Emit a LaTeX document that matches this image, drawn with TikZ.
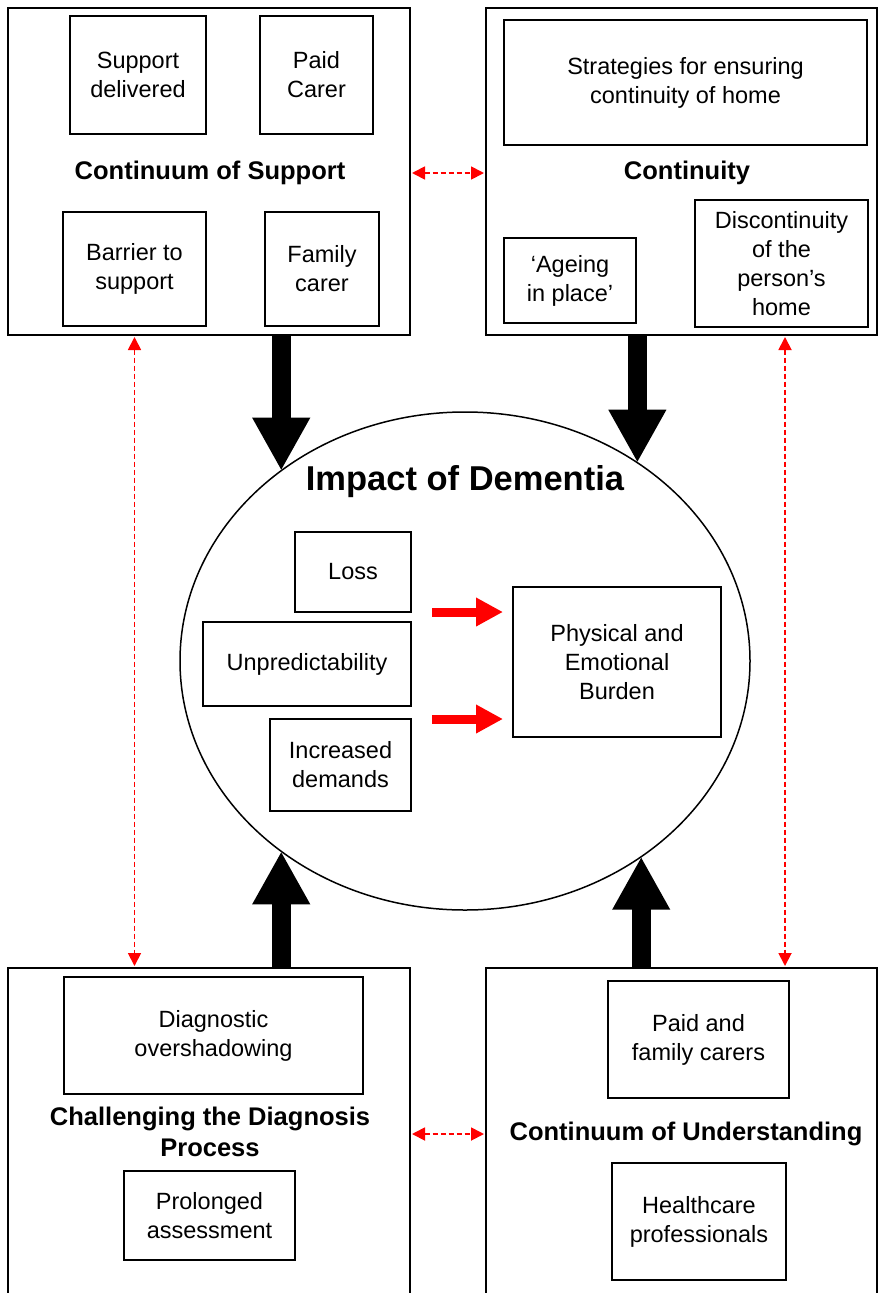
\documentclass[tikz,border=0pt]{standalone}
\usepackage{fontspec}
\setmainfont{Liberation Sans}
\usetikzlibrary{shapes.geometric,arrows.meta}

\tikzset{
  outerbox/.style={draw=black, line width=2pt, inner sep=0pt, outer sep=0pt},
  innerbox/.style={draw=black, line width=1.5pt, align=center, inner sep=0pt, outer sep=0pt, font=\fontsize{23.5}{29}\selectfont},
  heading/.style={align=center, inner sep=0pt, font=\fontsize{25.5}{31}\selectfont\bfseries},
  linkarrow/.style={draw=red, line width=1.8pt, dash pattern=on 5pt off 3pt, {Triangle[length=13pt,width=13pt]}-{Triangle[length=13pt,width=13pt]}, shorten <=2pt, shorten >=2pt},
  bigarrow/.style={draw=black, line width=19pt, -{Triangle[length=53pt,width=54pt]}},
  burdenarrow/.style={draw=red, line width=9pt, -{Triangle[length=27pt,width=27pt]}}
}

\begin{document}
\begin{tikzpicture}[x=1pt, y=-1pt]
\useasboundingbox (0,0) rectangle (879,1293);
\clip (0,0) rectangle (879,1293);

\node[outerbox, minimum width=402pt, minimum height=327pt] (support) at (209,171.5) {};
\node[innerbox, minimum width=136pt, minimum height=118pt] (delivered) at (138,75) {Support\\delivered};
\node[innerbox, minimum width=113pt, minimum height=118pt] (paidcarer) at (316.5,75) {Paid\\Carer};
\node[heading] (supporttitle) at (210,173) {Continuum of Support};
\node[innerbox, minimum width=143pt, minimum height=114pt] (barrier) at (134.5,269) {Barrier to\\support};
\node[innerbox, minimum width=114pt, minimum height=114pt] (familycarer) at (322,269) {Family\\carer};

\node[outerbox, minimum width=391pt, minimum height=327pt] (continuity) at (681.5,171.5) {};
\node[innerbox, minimum width=363pt, minimum height=125pt] (strategies) at (685.5,82.5) {Strategies for ensuring\\continuity of home};
\node[heading] (continuitytitle) at (687,173) {Continuity};
\node[innerbox, minimum width=132pt, minimum height=85pt] (ageing) at (570,280.5) {‘Ageing\\in place’};
\node[innerbox, minimum width=173pt, minimum height=127pt] (discont) at (781.5,263.5) {Discontinuity\\of the\\person’s\\home};

\node[outerbox, minimum width=402pt, minimum height=332pt] (diagnosis) at (209,1134) {};
\node[innerbox, minimum width=299pt, minimum height=117pt] (overshadow) at (213.5,1035.5) {Diagnostic\\overshadowing};
\node[heading] (diagnosistitle) at (210,1132) {Challenging the Diagnosis\\Process};
\node[innerbox, minimum width=171pt, minimum height=89pt] (prolonged) at (209.5,1215.5) {Prolonged\\assessment};

\node[outerbox, minimum width=391pt, minimum height=332pt] (understanding) at (681.5,1134) {};
\node[innerbox, minimum width=181pt, minimum height=117pt] (carers) at (698.5,1039.5) {Paid and\\family carers};
\node[heading] (understandingtitle) at (686,1134) {Continuum of Understanding};
\node[innerbox, minimum width=174pt, minimum height=117pt] (professionals) at (699,1221.5) {Healthcare\\professionals};

\node[draw=black, line width=1.5pt, ellipse, minimum width=570pt, minimum height=498pt, inner sep=0pt, outer sep=0pt] (impact) at (465,661) {};
\node[inner sep=0pt, font=\fontsize{34.5}{40}\selectfont\bfseries] (impacttitle) at (465,482) {Impact of Dementia};
\node[innerbox, minimum width=116pt, minimum height=80pt] (loss) at (353,572) {Loss};
\node[innerbox, minimum width=208pt, minimum height=84pt] (unpredict) at (307,664) {Unpredictability};
\node[innerbox, minimum width=141pt, minimum height=92pt] (demands) at (340.5,765) {Increased\\demands};
\node[innerbox, minimum width=208pt, minimum height=150pt] (burden) at (617,662) {Physical and\\Emotional\\Burden};

\draw[burdenarrow, shorten <=21pt, shorten >=10pt] (loss.south east) -- (burden.west |- loss.south east);
\draw[burdenarrow, shorten <=21pt, shorten >=10pt] (demands.north east) -- (burden.west |- demands.north east);

\draw[bigarrow] (impact.134 |- support.south) -- (impact.134);
\draw[bigarrow] (impact.49 |- continuity.south) -- (impact.49);
\draw[bigarrow] (impact.226.5 |- diagnosis.north) -- (impact.226.5);
\draw[bigarrow] (impact.312 |- understanding.north) -- (impact.312);

\draw[linkarrow] (support.east |- continuitytitle) -- (continuity.west |- continuitytitle);
\draw[linkarrow] (diagnosis.east) -- (understanding.west);
\draw[linkarrow] (support.south -| barrier) -- (diagnosis.north -| barrier);
\draw[linkarrow, transform canvas={xshift=3.5pt}] (continuity.south -| discont) -- (understanding.north -| discont);

\end{tikzpicture}
\end{document}
